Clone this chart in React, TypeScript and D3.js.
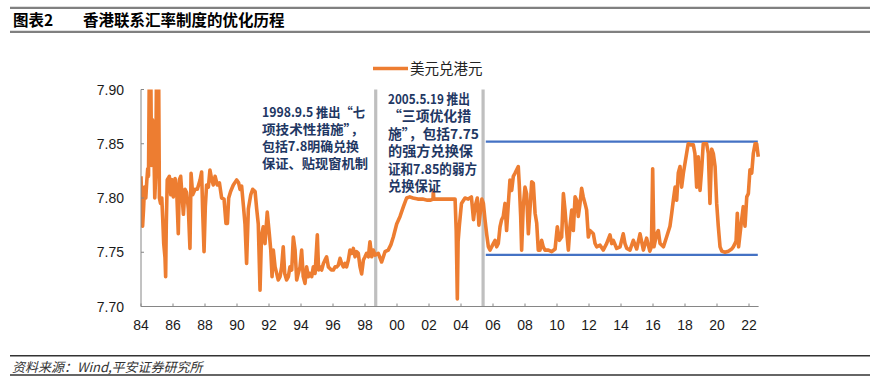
import React from "react";
import * as d3 from "d3";

// 美元兑港元: [fractional year, rate]
const usdHkd: [number, number][] = [
  [1984.0, 7.82], [1984.04, 7.8], [1984.1, 7.774], [1984.16, 7.79], [1984.22, 7.81],
  [1984.3, 7.8], [1984.36, 7.815], [1984.42, 7.827], [1984.47, 7.82], [1984.52, 7.92],
  [1984.61, 7.92], [1984.66, 7.83], [1984.72, 7.872], [1984.8, 7.85], [1984.86, 7.8],
  [1984.92, 7.82], [1984.97, 7.92], [1985.1, 7.92], [1985.15, 7.8], [1985.22, 7.795],
  [1985.3, 7.8], [1985.36, 7.78], [1985.42, 7.758], [1985.5, 7.745], [1985.54, 7.7275],
  [1985.58, 7.775], [1985.64, 7.8166], [1985.77, 7.82], [1985.86, 7.803], [1985.92, 7.817],
  [1986.02, 7.801], [1986.13, 7.818], [1986.23, 7.807], [1986.33, 7.767], [1986.4, 7.817],
  [1986.48, 7.82], [1986.56, 7.803], [1986.65, 7.785], [1986.75, 7.808], [1986.85, 7.805],
  [1986.96, 7.79], [1987.06, 7.7536], [1987.13, 7.8227], [1987.23, 7.803], [1987.38, 7.808],
  [1987.52, 7.808], [1987.69, 7.8166], [1987.79, 7.824], [1987.85, 7.79], [1987.94, 7.7505],
  [1988.02, 7.792], [1988.1, 7.812], [1988.21, 7.81], [1988.31, 7.8258], [1988.42, 7.817],
  [1988.52, 7.812], [1988.63, 7.82], [1988.77, 7.812], [1988.9, 7.814], [1989.04, 7.8],
  [1989.19, 7.799], [1989.31, 7.7766], [1989.4, 7.7766], [1989.48, 7.8], [1989.6, 7.806],
  [1989.77, 7.812], [1989.98, 7.8166], [1990.1, 7.814], [1990.19, 7.808], [1990.29, 7.811],
  [1990.4, 7.793], [1990.5, 7.776], [1990.6, 7.7397], [1990.71, 7.79], [1990.86, 7.803],
  [1990.98, 7.808], [1991.13, 7.806], [1991.23, 7.79], [1991.33, 7.776], [1991.44, 7.715],
  [1991.53, 7.765], [1991.64, 7.7735], [1991.75, 7.758], [1991.89, 7.787], [1992.02, 7.767],
  [1992.11, 7.752], [1992.19, 7.7275], [1992.27, 7.752], [1992.38, 7.7365], [1992.48, 7.7305],
  [1992.58, 7.7244], [1992.69, 7.7275], [1992.79, 7.7365], [1992.89, 7.755], [1992.98, 7.7305],
  [1993.1, 7.7244], [1993.21, 7.7275], [1993.31, 7.7365], [1993.42, 7.7336], [1993.52, 7.764],
  [1993.63, 7.752], [1993.73, 7.7244], [1993.83, 7.7305], [1993.94, 7.7365], [1994.04, 7.752],
  [1994.14, 7.7275], [1994.25, 7.7213], [1994.35, 7.7365], [1994.46, 7.7275], [1994.56, 7.7305],
  [1994.67, 7.7275], [1994.77, 7.7365], [1994.88, 7.7305], [1995.02, 7.766], [1995.1, 7.7336],
  [1995.19, 7.7365], [1995.29, 7.7336], [1995.4, 7.7397], [1995.5, 7.7428], [1995.6, 7.7458],
  [1995.71, 7.7365], [1995.81, 7.735], [1995.92, 7.7336], [1996.02, 7.7336], [1996.13, 7.7365],
  [1996.23, 7.7365], [1996.33, 7.738], [1996.44, 7.7444], [1996.54, 7.7397], [1996.65, 7.7365],
  [1996.75, 7.7397], [1996.85, 7.7365], [1996.96, 7.7428], [1997.06, 7.752], [1997.17, 7.749],
  [1997.27, 7.7535], [1997.38, 7.7458], [1997.48, 7.7505], [1997.58, 7.749], [1997.69, 7.7365],
  [1997.79, 7.73], [1997.9, 7.7428], [1998.0, 7.7458], [1998.1, 7.749], [1998.21, 7.7458],
  [1998.31, 7.7597], [1998.42, 7.7458], [1998.52, 7.752], [1998.63, 7.7474], [1998.83, 7.749],
  [1999.04, 7.741], [1999.25, 7.7505], [1999.45, 7.752], [1999.62, 7.757], [1999.77, 7.764],
  [1999.98, 7.776], [2000.19, 7.783], [2000.4, 7.792], [2000.6, 7.8], [2000.8, 7.801],
  [2001.0, 7.8], [2001.3, 7.799], [2001.6, 7.799], [2001.9, 7.798], [2002.1, 7.798],
  [2002.25, 7.799], [2002.27, 7.807], [2002.3, 7.799], [2002.6, 7.799], [2003.0, 7.799],
  [2003.3, 7.799], [2003.63, 7.799], [2003.7, 7.77], [2003.77, 7.707], [2003.82, 7.76],
  [2003.9, 7.775], [2004.03, 7.795], [2004.25, 7.8], [2004.45, 7.799], [2004.65, 7.801],
  [2004.78, 7.78], [2004.88, 7.792], [2005.02, 7.8], [2005.12, 7.775], [2005.3, 7.799],
  [2005.4, 7.795], [2005.5, 7.78], [2005.61, 7.766], [2005.71, 7.755], [2005.81, 7.752],
  [2006.02, 7.758], [2006.13, 7.761], [2006.23, 7.755], [2006.33, 7.758], [2006.44, 7.7735],
  [2006.54, 7.78], [2006.64, 7.783], [2006.75, 7.795], [2006.85, 7.77], [2006.96, 7.795],
  [2007.06, 7.8166], [2007.17, 7.807], [2007.27, 7.82], [2007.38, 7.823], [2007.48, 7.826],
  [2007.58, 7.829], [2007.64, 7.813], [2007.73, 7.783], [2007.79, 7.752], [2007.89, 7.792],
  [2008.0, 7.81], [2008.1, 7.804], [2008.21, 7.767], [2008.31, 7.789], [2008.42, 7.815],
  [2008.52, 7.8135], [2008.63, 7.786], [2008.73, 7.777], [2008.83, 7.752], [2008.94, 7.752],
  [2009.04, 7.761], [2009.14, 7.755], [2009.25, 7.752], [2009.46, 7.752], [2009.67, 7.7505],
  [2009.88, 7.753], [2010.02, 7.7735], [2010.15, 7.761], [2010.29, 7.764], [2010.4, 7.804],
  [2010.5, 7.789], [2010.6, 7.77], [2010.71, 7.752], [2010.81, 7.7735], [2010.92, 7.789],
  [2011.02, 7.77], [2011.13, 7.801], [2011.23, 7.798], [2011.33, 7.783], [2011.44, 7.795],
  [2011.54, 7.809], [2011.64, 7.801], [2011.75, 7.795], [2011.85, 7.789], [2011.96, 7.764],
  [2012.06, 7.77], [2012.27, 7.767], [2012.38, 7.758], [2012.48, 7.755], [2012.69, 7.7565],
  [2012.89, 7.752], [2013.1, 7.758], [2013.31, 7.766], [2013.42, 7.758], [2013.52, 7.761],
  [2013.73, 7.7535], [2013.94, 7.755], [2014.14, 7.767], [2014.25, 7.758], [2014.36, 7.7535],
  [2014.56, 7.752], [2014.77, 7.761], [2014.98, 7.753], [2015.19, 7.767], [2015.4, 7.752],
  [2015.6, 7.763], [2015.8, 7.751], [2015.9, 7.755], [2015.98, 7.827], [2016.06, 7.755],
  [2016.23, 7.767], [2016.33, 7.77], [2016.44, 7.758], [2016.65, 7.755], [2016.85, 7.764],
  [2017.06, 7.774], [2017.17, 7.786], [2017.27, 7.798], [2017.38, 7.81], [2017.48, 7.798],
  [2017.58, 7.823], [2017.69, 7.829], [2017.79, 7.81], [2017.9, 7.823], [2018.0, 7.832],
  [2018.1, 7.841], [2018.2, 7.85], [2018.35, 7.849], [2018.52, 7.849], [2018.62, 7.841],
  [2018.73, 7.81], [2018.83, 7.838], [2018.94, 7.807], [2019.04, 7.826], [2019.14, 7.85],
  [2019.35, 7.85], [2019.46, 7.841], [2019.56, 7.795], [2019.67, 7.845], [2019.77, 7.841],
  [2019.88, 7.829], [2019.98, 7.795], [2020.08, 7.774], [2020.19, 7.755], [2020.3, 7.751],
  [2020.5, 7.75], [2020.71, 7.751], [2020.92, 7.753], [2021.02, 7.755], [2021.19, 7.76],
  [2021.27, 7.786], [2021.35, 7.755], [2021.54, 7.78], [2021.64, 7.792], [2021.75, 7.774],
  [2021.86, 7.801], [2021.96, 7.804], [2022.06, 7.826], [2022.17, 7.823], [2022.27, 7.841],
  [2022.38, 7.85], [2022.48, 7.85], [2022.58, 7.838],
];

const yTicks = [7.7, 7.75, 7.8, 7.85, 7.9];
const xTicks = d3.range(1984, 2023, 2);
const policyYears = [1998.67, 2005.38];
const bandValues = [7.852, 7.7475];
const bandYears = [2005.55, 2022.55];

const note1 = ["1998.9.5 推出“七", "项技术性措施”，", "包括7.8明确兑换", "保证、贴现窗机制"];
const note2 = ["2005.5.19 推出", "“三项优化措", "施”，包括7.75", "的强方兑换保", "证和7.85的弱方", "兑换保证"];
// measured line widths in the reference, px
const note1Widths = [103, 102, 97, 106];
const note2Widths = [82, 83, 91, 85, 89, 53];

const W = 870;
const H = 386;
const cjk = "'Noto Sans CJK SC', sans-serif";
const latin = "'Liberation Sans', Arial, sans-serif";

export default function App() {
  const x = d3.scaleLinear().domain([1984, 2022.6]).range([141, 758.6]);
  const y = d3.scaleLinear().domain([7.7, 7.9]).range([306.5, 89.5]);

  const line = d3
    .line<[number, number]>()
    .x((d) => x(d[0]))
    .y((d) => y(d[1]));

  return (
    <svg
      width={W}
      height={H}
      style={{ position: "absolute", left: 0, top: 0, background: "#fff" }}
    >
      <defs>
        <clipPath id="plot">
          <rect x={x(1984)} y={y(7.9)} width={x(2022.6) - x(1984) + 4} height={y(7.7) - y(7.9) + 2} />
        </clipPath>
      </defs>

      {/* header */}
      <line x1={10} x2={W} y1={7.8} y2={7.8} stroke="#808080" strokeWidth={2.2} />
      <line x1={10} x2={W} y1={31.8} y2={31.8} stroke="#808080" strokeWidth={2.2} />
      <text x={13} y={26} fontFamily={cjk} fontSize={15.5} fontWeight="bold" fill="#000">
        图表2
      </text>
      <text x={83} y={26} fontFamily={cjk} fontSize={15.5} fontWeight="bold" fill="#000">
        香港联系汇率制度的优化历程
      </text>

      {/* legend */}
      <line x1={373} x2={408} y1={68.5} y2={68.5} stroke="#ED7D31" strokeWidth={3.6} />
      <text x={410} y={73.8} fontFamily={cjk} fontSize={14.5} fill="#222">
        美元兑港元
      </text>

      {/* band lines */}
      {bandValues.map((v) => (
        <line
          key={v}
          x1={x(bandYears[0])}
          x2={x(bandYears[1])}
          y1={y(v)}
          y2={y(v)}
          stroke="#4472C4"
          strokeWidth={2.2}
        />
      ))}

      {/* policy markers */}
      {policyYears.map((p) => (
        <line
          key={p}
          x1={x(p)}
          x2={x(p)}
          y1={y(7.9)}
          y2={y(7.7)}
          stroke="#BFBFBF"
          strokeWidth={3.2}
        />
      ))}

      {/* series */}
      <path
        d={line(usdHkd) ?? ""}
        fill="none"
        stroke="#ED7D31"
        strokeWidth={3.6}
        strokeLinejoin="round"
        clipPath="url(#plot)"
      />

      {/* axes */}
      <line x1={x(1984)} x2={x(1984)} y1={y(7.9)} y2={y(7.7)} stroke="#868686" strokeWidth={1} />
      <line x1={x(1984)} x2={x(2022.6)} y1={y(7.7)} y2={y(7.7)} stroke="#868686" strokeWidth={1} />
      {yTicks.map((t) => (
        <g key={t}>
          <line x1={x(1984)} x2={x(1984) + 3} y1={y(t)} y2={y(t)} stroke="#868686" />
          <text
            x={124}
            y={y(t) + 5}
            textAnchor="end"
            fontFamily={latin}
            fontSize={14}
            fill="#1a1a1a"
          >
            {d3.format(".2f")(t)}
          </text>
        </g>
      ))}
      {xTicks.map((t) => (
        <g key={t}>
          <line x1={x(t)} x2={x(t)} y1={y(7.7)} y2={y(7.7) - 3} stroke="#868686" />
          <text
            x={x(t)}
            y={330}
            textAnchor="middle"
            fontFamily={latin}
            fontSize={14}
            fill="#1a1a1a"
          >
            {String(t % 100).padStart(2, "0")}
          </text>
        </g>
      ))}

      {/* annotations */}
      {note1.map((s, i) => (
        <text
          key={s}
          x={262}
          y={117 + i * 17}
          fontFamily={cjk}
          fontSize={13}
          fontWeight="bold"
          fill="#1F3864"
          textLength={note1Widths[i]}
          lengthAdjust="spacingAndGlyphs"
        >
          {s}
        </text>
      ))}
      {note2.map((s, i) => (
        <text
          key={s}
          x={388}
          y={104 + i * 17.4}
          fontFamily={cjk}
          fontSize={13.5}
          fontWeight="bold"
          fill="#1F3864"
          textLength={note2Widths[i]}
          lengthAdjust="spacingAndGlyphs"
        >
          {s}
        </text>
      ))}

      {/* source */}
      <line x1={10} x2={W} y1={355.7} y2={355.7} stroke="#333" strokeWidth={1.4} />
      <line x1={10} x2={W} y1={375} y2={375} stroke="#333" strokeWidth={1.4} />
      <text x={12} y={371.5} fontFamily={cjk} fontSize={13} fontStyle="italic" fill="#333">
        资料来源：Wind,平安证券研究所
      </text>
    </svg>
  );
}
